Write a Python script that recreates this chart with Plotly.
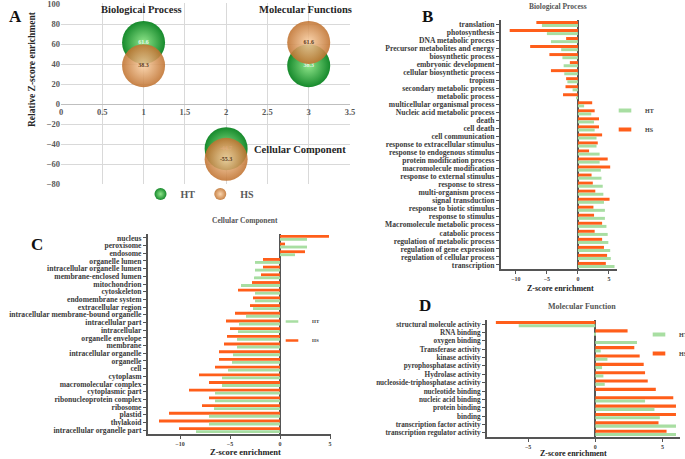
import plotly.graph_objects as go

W, H = 685, 459
SERIF = "Liberation Serif, Times New Roman, serif"
HT_BAR = "#a8dea2"
HS_BAR = "#ff5e1a"

# ---- panel A: relative enrichment bubbles
groups = ["Biological Process", "Cellular Component", "Molecular Functions"]
group_x = [1, 2, 3]
ht_rel = [61.6, -44.7, 38.3]
hs_rel = [38.3, -55.3, 61.6]

# ---- panel B: biological process
bp_terms = [
    "translation", "photosynthesis", "DNA metabolic process",
    "Precursor metabolites and energy", "biosynthetic process",
    "embryonic development", "cellular biosynthetic process", "tropism",
    "secondary metabolic process", "metabolic process",
    "multicellular organismal process", "Nucleic acid metabolic process",
    "death", "cell death", "cell communication",
    "response to extracellular stimulus", "response to endogenous stimulus",
    "protein modification process", "macromolecule modification",
    "response to external stimulus", "response to stress",
    "multi-organism process", "signal transduction",
    "response to biotic stimulus", "response to stimulus",
    "Macromolecule metabolic process", "catabolic process",
    "regulation of metabolic process", "regulation of gene expression",
    "regulation of cellular process", "transcription",
]
bp_ht = [-5.8, -5.0, -4.35, -2.7, -2.5, -2.3, -2.2, -1.7, -0.86, -0.3,
         1.0, 2.15, 2.6, 2.7, 3.0, 3.0, 3.5, 3.5, 3.7, 3.8, 4.0, 4.1,
         4.2, 4.35, 4.35, 4.6, 4.8, 4.9, 5.2, 5.3, 5.9]
bp_hs = [-6.7, -11.0, -1.9, -7.7, -4.6, -1.3, -4.35, -1.9, -2.0, -2.4,
         2.3, 2.7, 3.4, 3.4, 3.9, 3.2, 1.8, 4.8, 5.2, 2.2, 2.4, 2.8,
         5.1, 2.5, 2.6, 3.9, 2.7, 3.9, 4.2, 4.7, 4.5]

# ---- panel C: cellular component
cc_terms = [
    "nucleus", "peroxisome", "endosome", "organelle lumen",
    "intracellular organelle lumen", "membrane-enclosed lumen",
    "mitochondrion", "cytoskeleton", "endomembrane system",
    "extracellular region", "intracellular membrane-bound organelle",
    "intracellular part", "intracellular", "organelle envelope", "membrane",
    "intracellular organelle", "organelle", "cell", "cytoplasm",
    "macromolecular complex", "cytoplasmic part",
    "ribonucleoprotein complex", "ribosome", "plastid", "thylakoid",
    "intracellular organelle part",
]
cc_ht = [2.7, 2.7, 1.5, -2.5, -2.5, -2.6, -3.9, -2.5, -2.5, -2.7, -3.4,
         -4.1, -4.2, -4.3, -4.3, -4.7, -4.8, -5.2, -5.8, -5.8, -6.5, -6.5,
         -6.6, -7.1, -7.1, -8.4]
cc_hs = [4.9, 0.5, 2.5, -1.7, -1.7, -1.9, -2.8, -4.2, -2.7, -3.0, -4.5,
         -5.4, -5.0, -5.3, -5.6, -6.1, -6.1, -6.5, -8.1, -7.1, -9.1, -7.1,
         -7.8, -11.1, -12.1, -10.1]

# ---- panel D: molecular function
mf_terms = [
    "structural molecule activity", "RNA binding", "oxygen binding",
    "Transferase activity", "kinase activity", "pyrophosphatase activity",
    "Hydrolase activity", "nucleoside-triphosphatase activity",
    "nucleotide binding", "nucleic acid binding", "protein binding",
    "binding", "transcription factor activity",
    "transcription regulator activity",
]
mf_ht = [-5.7, -0.1, 3.1, 0.4, 0.9, 0.5, 0.6, 0.7, 0.0, 3.7, 4.4, 4.8, 6.0, 6.0]
mf_hs = [-7.4, 2.4, 0.0, 2.9, 3.3, 3.6, 3.7, 3.9, 4.5, 5.8, 6.0, 6.0, 4.7, 5.3]


def px_x(p):
    return p / W


def px_y(p):
    return 1 - p / H


fig = go.Figure()

# bubbles
fig.add_trace(go.Scatter(
    x=group_x, y=ht_rel, mode="markers+text", name="HT",
    text=[str(v) for v in ht_rel], textposition="middle center",
    textfont=dict(family=SERIF, size=6, color="#e8f5e8", weight=700),
    marker=dict(size=43, color="#168a2c", line=dict(width=0),
                gradient=dict(type="radial", color="#8fe58a")),
    xaxis="x", yaxis="y", legend="legend",
))
fig.add_trace(go.Scatter(
    x=group_x, y=hs_rel, mode="markers+text", name="HS",
    text=[str(v) for v in hs_rel], textposition="middle center",
    textfont=dict(family=SERIF, size=6, color="#5a3a20", weight=700),
    marker=dict(size=43, color="#c0722f", opacity=0.88, line=dict(width=0),
                gradient=dict(type="radial", color="#fad0a4")),
    xaxis="x", yaxis="y", legend="legend",
))

panels = [
    (bp_terms, bp_ht, bp_hs, "x2", "y2", "legend2", 4),
    (cc_terms, cc_ht, cc_hs, "x3", "y3", "legend3", 2.5),
    (mf_terms, mf_ht, mf_hs, "x4", "y4", "legend4", 4),
]
for terms, ht, hs, xa, ya, lg, sw in panels:
    fig.add_trace(go.Bar(y=terms, x=hs, orientation="h", name="HS",
                         marker=dict(color=HS_BAR, line=dict(width=0)),
                         xaxis=xa, yaxis=ya, showlegend=False))
    fig.add_trace(go.Bar(y=terms, x=ht, orientation="h", name="HT",
                         marker=dict(color=HT_BAR, line=dict(width=0)),
                         xaxis=xa, yaxis=ya, showlegend=False))
    # legend swatches: short flat bars
    for nm, col in (("HT", HT_BAR), ("HS", HS_BAR)):
        fig.add_trace(go.Scatter(
            x=[None], y=[None], mode="markers", name=nm, legend=lg,
            xaxis=xa, yaxis=ya,
            marker=dict(symbol="line-ew", size=9,
                        line=dict(color=col, width=sw)),
        ))

tick_gray = dict(family=SERIF, size=8.5, color="#595959", weight=700)
small_tick = dict(family=SERIF, size=6, color="#404040", weight=700)
cat_font = dict(family=SERIF, size=7.6, color="#3a3a3a", weight=700)


def bar_x(domain, rng, anchor):
    return dict(domain=domain, range=rng, tickvals=[-10, -5, 0, 5],
                anchor=anchor, showgrid=False, zeroline=True,
                zerolinecolor="#555555", zerolinewidth=2, showline=True,
                linecolor="#555555", linewidth=1.5, ticks="outside",
                ticklen=3, tickcolor="#555555", tickfont=small_tick)


def bar_y(domain, terms, anchor, size=7.6):
    return dict(domain=domain, type="category", categoryorder="array",
                categoryarray=terms, autorange="reversed", anchor=anchor,
                tickmode="array", tickvals=terms, ticktext=terms,
                showgrid=False, showline=True, linecolor="#555555",
                linewidth=2, ticks="outside", ticklen=3, tickcolor="#555555",
                tickfont=cat_font | dict(size=size))


leg_small = dict(xanchor="left", yanchor="top", tracegroupgap=0,
                 bgcolor="rgba(0,0,0,0)", itemwidth=30)

fig.update_layout(
    width=W, height=H,
    margin=dict(l=0, r=0, t=0, b=0, autoexpand=False),
    paper_bgcolor="white", plot_bgcolor="white",
    barmode="group", bargap=0.22, bargroupgap=0.05,
    font=dict(family=SERIF),
    xaxis=dict(domain=[px_x(61), px_x(350)], range=[0, 3.5], dtick=0.5,
               showgrid=True, gridcolor="#d9d9d9", zeroline=False,
               anchor="free", position=px_y(104), showline=True,
               linecolor="#bfbfbf", tickfont=tick_gray, ticks=""),
    yaxis=dict(domain=[px_y(184), px_y(3)], range=[-80, 101],
               tickvals=[-80, -60, -40, -20, 0, 20, 40, 60, 80, 100],
               ticklabeloverflow="allow",
               showgrid=True, gridcolor="#d9d9d9", zeroline=False,
               showline=False, tickfont=tick_gray, anchor="x"),
    xaxis2=bar_x([px_x(501), px_x(617)], [-12.4, 6.3], "y2"),
    yaxis2=bar_y([px_y(269), px_y(20)], bp_terms, "x2"),
    xaxis3=bar_x([px_x(148), px_x(331)], [-13.2, 5.1], "y3"),
    yaxis3=bar_y([px_y(434), px_y(234)], cc_terms, "x3"),
    xaxis4=bar_x([px_x(487), px_x(680)], [-8.06, 6.3], "y4"),
    yaxis4=bar_y([px_y(437), px_y(320)], mf_terms, "x4", 7.2),
    legend=dict(orientation="h", x=px_x(200), xanchor="center",
                y=px_y(194), yanchor="middle", itemsizing="constant",
                font=dict(family=SERIF, size=10, color="#595959", weight=700),
                bgcolor="rgba(0,0,0,0)"),
    legend2=leg_small | dict(x=px_x(605), y=px_y(96),
                             font=dict(family=SERIF, size=6, color="#404040",
                                       weight=700)),
    legend3=leg_small | dict(x=px_x(272), y=px_y(307),
                             font=dict(family=SERIF, size=5, color="#404040",
                                       weight=700)),
    legend4=leg_small | dict(x=px_x(639), y=px_y(320),
                             font=dict(family=SERIF, size=6, color="#404040",
                                       weight=700)),
    showlegend=True,
)

# group names inside panel A
label_pos = {"Biological Process": (0.98, 94),
             "Molecular Functions": (2.96, 94),
             "Cellular Component": (2.9, -45)}
for g in groups:
    gx, gy = label_pos[g]
    fig.add_annotation(x=gx, y=gy, xref="x", yref="y", text=g, showarrow=False,
                       xanchor="center", font=dict(family=SERIF, size=10.5,
                                                   color="#262626", weight=700))

letters = [("A", 15, 17), ("B", 427, 16), ("C", 37, 245), ("D", 425, 305)]
for t, x, y in letters:
    fig.add_annotation(x=px_x(x), y=px_y(y), xref="paper", yref="paper",
                       text=t, showarrow=False, xanchor="center",
                       yanchor="middle",
                       font=dict(family=SERIF, size=17, color="#111111",
                                 weight=700))

titles = [
    ("Biological Process", 558, 7, 7.5, "#555555"),
    ("Cellular Component", 245, 220, 7.5, "#555555"),
    ("Molecular Function", 582, 306, 8, "#555555"),
    ("Z-score enrichment", 560, 288, 8, "#222222"),
    ("Z-score enrichment", 245, 452, 8.5, "#222222"),
    ("Z-score enrichment", 573, 453, 8, "#222222"),
]
for t, x, y, s, c in titles:
    fig.add_annotation(x=px_x(x), y=px_y(y), xref="paper", yref="paper",
                       text=t, showarrow=False, xanchor="center",
                       yanchor="middle",
                       font=dict(family=SERIF, size=s, color=c, weight=700))

fig.add_annotation(x=px_x(32), y=px_y(69), xref="paper", yref="paper",
                   text="Relative Z-score enrichment", textangle=-90,
                   showarrow=False, xanchor="center", yanchor="middle",
                   font=dict(family=SERIF, size=9.5, color="#262626",
                             weight=700))

# drop the default page margin so the figure sits at the window corner
fig.write_html("out.html", config={"displayModeBar": False},
               post_script="document.body.style.margin='0';")
